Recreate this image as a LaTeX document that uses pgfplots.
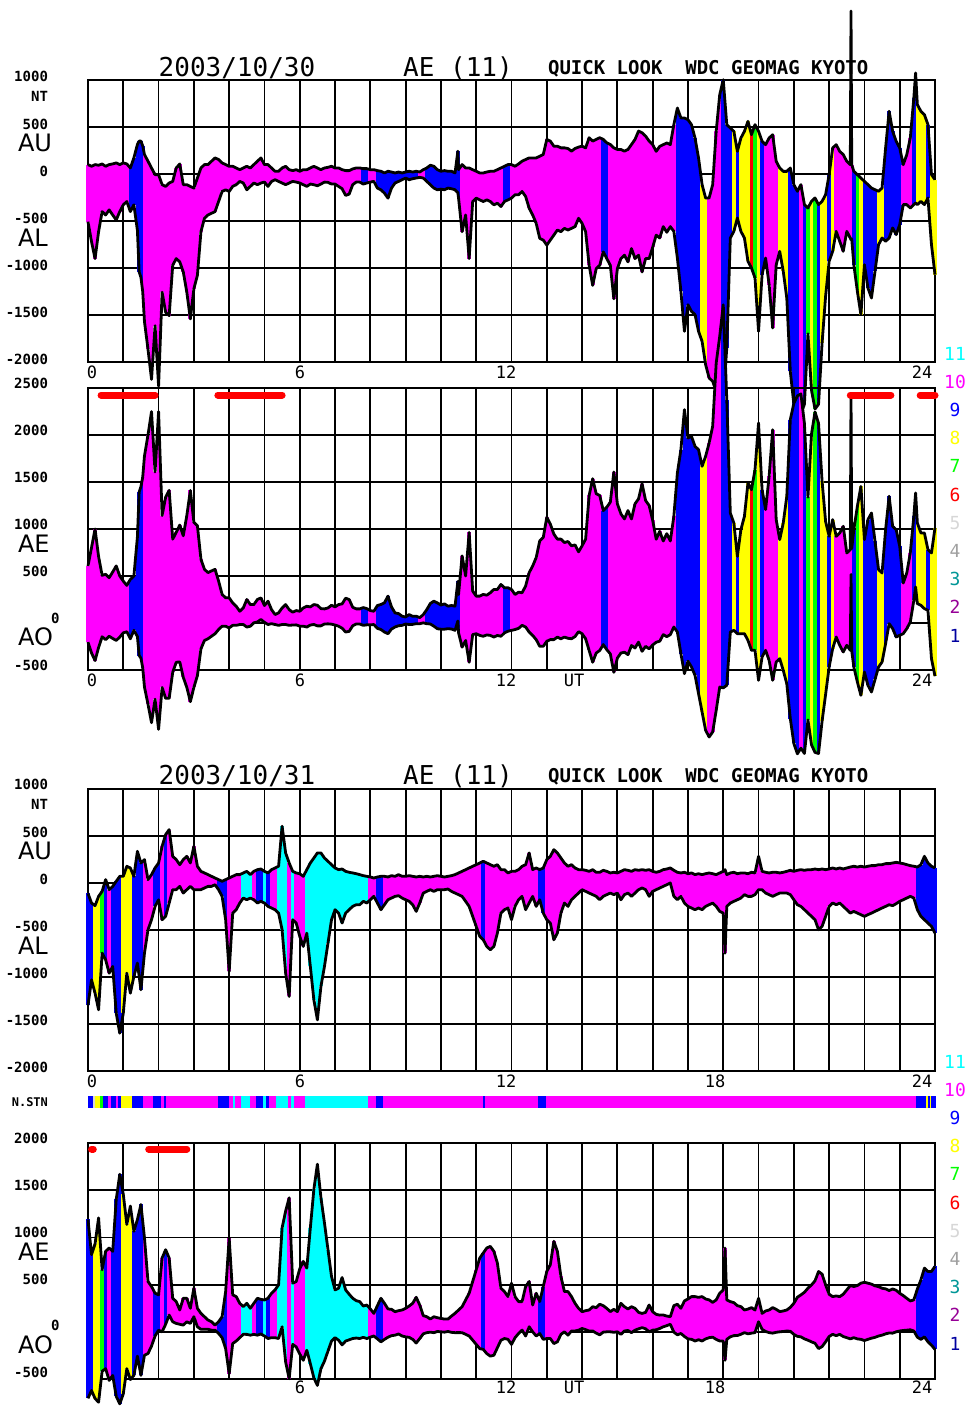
\documentclass[border=0pt]{standalone}
\usepackage{pgfplots}
\pgfplotsset{compat=1.18}
\usepackage{pgfplotstable}
\usepackage{fontspec}
\setmainfont{DejaVu Sans}
\newfontfamily\monof{DejaVu Sans Mono}
\definecolor{mg}{RGB}{255,0,255}
\definecolor{bl}{RGB}{0,0,255}
\definecolor{ye}{RGB}{255,255,0}
\definecolor{gr}{RGB}{0,255,0}
\definecolor{rd}{RGB}{255,0,0}
\definecolor{cy}{RGB}{0,255,255}
\definecolor{lg}{RGB}{215,215,215}
\definecolor{gy}{RGB}{160,160,160}
\definecolor{tl}{RGB}{0,150,150}
\definecolor{pu}{RGB}{150,0,150}
\definecolor{nv}{RGB}{0,0,160}

% 2003/10/30 : t (UT hours), AU, AL (nT)
\pgfplotstableread{
t au al
0.0 100 -507
0.1 82 -721
0.2 100 -900
0.3 93 -614
0.4 107 -400
0.5 82 -436
0.6 100 -382
0.7 107 -436
0.8 118 -489
0.9 100 -400
1.0 118 -328
1.1 107 -293
1.2 64 -400
1.3 171 -328
1.4 314 -600
1.45 350 -1043
1.5 350 -1100
1.55 300 -1250
1.6 207 -1570
1.7 136 -1864
1.8 64 -2185
1.9 -7 -1614
2.0 -7 -2256
2.1 -114 -1257
2.2 -132 -1471
2.3 -96 -1507
2.4 -79 -971
2.5 64 -900
2.6 107 -935
2.7 -114 -1042
2.8 -114 -1257
2.9 -132 -1542
3.0 -150 -1221
3.1 -43 -1078
3.2 64 -614
3.3 100 -471
3.4 100 -436
3.5 136 -418
3.6 171 -400
3.7 154 -293
3.8 118 -186
3.9 100 -168
4.0 82 -186
4.1 82 -132
4.2 64 -114
4.3 46 -79
4.4 64 -96
4.5 82 -168
4.6 64 -132
4.7 100 -96
4.8 136 -114
4.9 171 -96
5.0 100 -86
5.1 100 -132
5.2 64 -79
5.3 29 -61
5.4 29 -79
5.5 64 -96
5.6 82 -114
5.7 46 -96
5.8 36 -79
5.9 46 -86
6.0 29 -96
6.1 46 -114
6.2 46 -132
6.3 64 -107
6.4 82 -114
6.5 64 -125
6.6 46 -107
6.7 64 -86
6.8 71 -89
6.9 82 -107
7.0 64 -107
7.1 64 -132
7.2 46 -157
7.3 36 -228
7.4 36 -214
7.5 54 -114
7.6 64 -86
7.7 64 -86
7.8 57 -107
7.9 57 -96
8.0 46 -86
8.1 46 -79
8.2 36 -150
8.3 29 -168
8.4 11 -204
8.5 29 -257
8.6 21 -150
8.7 11 -96
8.8 21 -79
8.9 11 -61
9.0 21 -43
9.1 29 -61
9.2 21 -50
9.3 29 -43
9.4 21 -36
9.5 46 -43
9.6 64 -79
9.7 93 -114
9.8 82 -150
9.9 46 -168
10.0 29 -161
10.1 36 -168
10.2 29 -150
10.3 29 -157
10.4 11 -168
10.48 243 -200
10.5 46 -257
10.6 100 -614
10.7 64 -436
10.8 64 -900
10.9 46 -293
11.0 29 -257
11.1 11 -275
11.2 11 -293
11.3 21 -275
11.4 29 -293
11.5 29 -328
11.6 46 -311
11.7 64 -346
11.8 82 -293
11.9 100 -275
12.0 100 -257
12.1 82 -221
12.2 107 -221
12.3 136 -186
12.4 154 -239
12.5 171 -364
12.6 171 -436
12.7 171 -525
12.8 189 -685
12.9 207 -703
13.0 368 -757
13.1 350 -703
13.2 296 -650
13.3 296 -596
13.4 278 -614
13.5 278 -578
13.6 271 -596
13.7 243 -578
13.8 271 -560
13.9 286 -471
14.0 296 -525
14.1 278 -614
14.2 386 -971
14.3 350 -1185
14.4 368 -1007
14.5 386 -971
14.6 368 -828
14.7 332 -900
14.8 314 -971
14.9 278 -1328
15.0 261 -1007
15.1 261 -900
15.2 243 -864
15.3 261 -935
15.4 314 -793
15.5 368 -900
15.6 457 -864
15.7 439 -1042
15.8 403 -900
15.9 350 -900
16.0 312 -780
16.1 241 -650
16.2 294 -681
16.3 312 -560
16.4 330 -620
16.5 312 -560
16.6 525 -610
16.7 702 -894
16.8 596 -1248
16.9 596 -1674
17.0 578 -1390
17.1 525 -1461
17.2 383 -1496
17.3 170 -1674
17.4 -113 -1780
17.5 -255 -2028
17.6 -255 -2170
17.7 -113 -2206
17.8 454 -2312
17.9 844 -2206
18.0 1003 -2383
18.1 525 -1851
18.2 489 -681
18.3 454 -610
18.4 241 -468
18.5 383 -610
18.6 454 -681
18.7 560 -929
18.8 418 -1000
18.9 525 -1106
19.0 454 -1674
19.1 348 -1071
19.2 312 -894
19.3 383 -1177
19.4 418 -1638
19.5 135 -965
19.6 64 -823
19.7 28 -1035
19.8 28 -1319
19.9 64 -2100
20.0 -113 -2450
20.1 -184 -2600
20.2 -113 -2550
20.3 -326 -2450
20.4 -362 -1700
20.5 -291 -2300
20.6 -255 -2500
20.7 -326 -2450
20.8 -291 -1800
20.9 -220 -1300
21.0 -7 -929
21.1 277 -823
21.2 312 -610
21.3 241 -716
21.4 206 -823
21.5 135 -610
21.6 99 -681
21.62 1734 -700
21.64 100 -690
21.7 28 -965
21.8 -7 -1248
21.9 -43 -1496
22.0 -78 -965
22.1 -113 -1213
22.2 -149 -1319
22.3 -167 -1035
22.4 -184 -752
22.5 -149 -681
22.6 277 -716
22.7 667 -681
22.8 454 -574
22.9 348 -645
23.0 277 -539
23.1 99 -326
23.2 206 -326
23.3 383 -362
23.4 809 -326
23.45 1075 -308
23.5 738 -326
23.6 667 -291
23.7 631 -326
23.8 525 -255
23.9 -7 -752
24.0 -60 -1071
}\dayA

% 2003/10/31 : t (UT hours), AU, AL (nT)
\pgfplotstableread{
t au al
0.0 -110 -1300
0.1 -213 -1030
0.2 -241 -1172
0.3 -142 -1349
0.4 -89 -746
0.5 36 -817
0.6 -71 -959
0.7 -36 -888
0.8 18 -1385
0.9 71 -1598
1.0 71 -1385
1.1 178 -959
1.2 160 -1172
1.3 71 -994
1.4 337 -852
1.5 213 -1136
1.6 249 -746
1.7 36 -497
1.8 89 -391
1.9 160 -249
2.0 213 -178
2.1 391 -391
2.2 515 -355
2.3 568 -213
2.4 284 -71
2.5 249 -71
2.6 195 -36
2.7 249 -107
2.8 284 -71
2.9 213 -36
3.0 391 -71
3.1 178 -71
3.2 124 -71
3.3 107 -53
3.4 89 -36
3.5 71 -36
3.6 53 -18
3.7 36 -71
3.8 18 -142
3.9 36 -391
4.0 53 -941
4.1 71 -320
4.2 89 -284
4.3 89 -213
4.4 107 -160
4.5 124 -178
4.6 89 -160
4.7 124 -178
4.8 142 -213
4.9 149 -195
5.0 124 -213
5.1 107 -249
5.2 142 -266
5.3 160 -284
5.4 178 -320
5.5 604 -497
5.6 320 -959
5.7 213 -1207
5.8 124 -391
5.9 107 -426
6.0 99 -568
6.1 71 -675
6.2 142 -533
6.3 213 -888
6.4 266 -1243
6.5 320 -1456
6.6 320 -1101
6.7 266 -888
6.8 231 -639
6.9 195 -391
7.0 160 -284
7.1 142 -320
7.2 149 -426
7.3 124 -320
7.4 114 -284
7.5 107 -249
7.6 99 -231
7.7 89 -231
7.8 78 -195
7.9 71 -213
8.0 64 -178
8.1 53 -142
8.2 64 -213
8.3 71 -284
8.4 71 -231
8.5 64 -178
8.6 78 -160
8.7 71 -142
8.8 89 -135
8.9 71 -160
9.0 71 -178
9.1 78 -195
9.2 71 -231
9.3 64 -302
9.4 71 -213
9.5 64 -107
9.6 71 -89
9.7 64 -71
9.8 71 -89
9.9 78 -71
10.0 71 -71
10.1 64 -71
10.2 71 -64
10.3 78 -89
10.4 89 -107
10.5 107 -124
10.6 124 -142
10.7 142 -195
10.8 160 -249
10.9 178 -355
11.0 195 -462
11.1 213 -568
11.2 231 -604
11.3 213 -675
11.4 195 -710
11.5 178 -675
11.6 195 -533
11.7 142 -320
11.8 142 -284
11.9 107 -266
12.0 124 -391
12.1 124 -249
12.2 142 -178
12.3 178 -142
12.4 195 -284
12.5 320 -213
12.6 142 -142
12.7 160 -249
12.8 142 -178
12.9 160 -320
13.0 249 -391
13.1 284 -426
13.2 355 -604
13.3 320 -533
13.4 266 -320
13.5 213 -213
13.6 178 -249
13.7 195 -178
13.8 160 -142
13.9 142 -107
14.0 142 -71
14.1 135 -89
14.2 124 -107
14.3 142 -124
14.4 114 -142
14.5 114 -178
14.6 135 -142
14.7 124 -124
14.8 107 -107
14.9 114 -124
15.0 107 -107
15.1 124 -178
15.2 142 -124
15.3 135 -107
15.4 124 -142
15.5 142 -107
15.6 135 -71
15.7 142 -53
15.8 135 -71
15.9 142 -142
16.0 124 -89
16.1 114 -71
16.2 124 -53
16.3 142 -36
16.4 149 -18
16.5 160 0
16.6 135 -142
16.7 114 -178
16.8 107 -142
16.9 114 -213
17.0 99 -249
17.1 107 -266
17.2 89 -284
17.3 99 -266
17.4 89 -284
17.5 99 -249
17.6 107 -231
17.7 99 -213
17.8 89 -249
17.9 107 -302
18.0 124 -320
18.05 142 -746
18.1 89 -249
18.2 107 -213
18.3 114 -195
18.4 99 -178
18.5 107 -160
18.6 107 -124
18.7 99 -142
18.8 114 -142
18.9 107 -124
19.0 284 -71
19.1 124 -71
19.2 114 -107
19.3 107 -124
19.4 114 -142
19.5 114 -124
19.6 107 -107
19.7 114 -107
19.8 124 -107
19.9 135 -124
20.0 124 -178
20.1 135 -231
20.2 142 -249
20.3 135 -284
20.4 142 -320
20.5 142 -355
20.6 149 -391
20.7 142 -497
20.8 149 -462
20.9 142 -355
21.0 149 -249
21.1 160 -213
21.2 149 -231
21.3 160 -213
21.4 149 -249
21.5 160 -284
21.6 170 -320
21.7 178 -302
21.8 170 -320
21.9 178 -337
22.0 170 -355
22.1 178 -337
22.2 185 -320
22.3 185 -302
22.4 195 -284
22.5 195 -266
22.6 206 -249
22.7 206 -231
22.8 213 -241
22.9 220 -220
23.0 213 -195
23.1 206 -178
23.2 195 -160
23.3 185 -142
23.4 178 -160
23.5 170 -284
23.6 195 -355
23.7 284 -391
23.8 213 -426
23.9 178 -462
24.0 160 -533
}\dayB

% derived columns: AE = AU-AL, AO = (AU+AL)/2, and mid/half-range of each band
\newcommand\derive[1]{%
  \pgfplotstablecreatecol[create col/expr={\thisrow{au}-\thisrow{al}}]{ae}#1%
  \pgfplotstablecreatecol[create col/expr={(\thisrow{au}+\thisrow{al})/2}]{ao}#1%
  \pgfplotstablecreatecol[create col/expr={(\thisrow{au}+\thisrow{al})/2}]{ulm}#1%
  \pgfplotstablecreatecol[create col/expr={(\thisrow{au}-\thisrow{al})/2}]{ule}#1%
  \pgfplotstablecreatecol[create col/expr={(\thisrow{ae}+\thisrow{ao})/2}]{eom}#1%
  \pgfplotstablecreatecol[create col/expr={(\thisrow{ae}-\thisrow{ao})/2}]{eoe}#1}
\derive\dayA
\derive\dayB

% colour of the fill by number of stations: start/end/colour
\def\segA{0/1.17/mg,1.17/1.58/bl,1.58/7.76/mg,7.76/7.94/bl,7.94/8.18/mg,8.18/8.55/bl,8.55/8.6/mg,8.6/9.4/bl,9.4/9.6/mg,9.6/10.54/bl,10.54/11.78/mg,11.78/11.97/bl,11.97/14.55/mg,14.55/14.77/bl,14.77/15.24/mg,15.24/15.29/bl,15.29/16.63/mg,16.63/17.34/bl,17.34/17.4/mg,17.4/17.57/ye,17.57/17.98/mg,17.98/18.28/bl,18.28/18.39/ye,18.39/18.47/bl,18.47/18.75/ye,18.75/18.85/rd,18.85/18.94/gr,18.94/19.08/ye,19.08/19.18/bl,19.18/19.56/mg,19.56/19.89/ye,19.89/20.17/bl,20.17/20.28/mg,20.28/20.36/bl,20.36/20.45/gr,20.45/20.54/ye,20.54/20.69/gr,20.69/20.78/bl,20.78/20.97/ye,20.97/21.07/bl,21.07/21.16/ye,21.16/21.61/mg,21.63/21.68/mg,21.68/21.75/bl,21.75/21.87/gr,21.87/21.96/ye,21.96/22.11/bl,22.11/22.2/ye,22.2/22.39/bl,22.39/22.53/ye,22.53/23.05/bl,23.05/23.1/ye,23.1/23.33/mg,23.33/23.48/bl,23.48/23.71/ye,23.71/23.85/bl,23.85/24/ye}
\def\segB{0/0.15/bl,0.15/0.2/lg,0.2/0.34/ye,0.34/0.43/gr,0.43/0.58/bl,0.58/0.65/mg,0.65/0.81/bl,0.81/0.86/mg,0.86/0.95/bl,0.95/1.26/ye,1.26/1.57/bl,1.57/1.85/mg,1.85/2.07/bl,2.07/2.16/mg,2.16/2.22/bl,2.22/3.69/mg,3.69/3.99/bl,3.99/4.12/mg,4.12/4.16/cy,4.16/4.35/mg,4.35/4.61/cy,4.61/4.78/mg,4.78/4.97/bl,4.97/5.06/cy,5.06/5.13/bl,5.13/5.34/mg,5.34/5.68/cy,5.68/5.77/mg,5.77/5.85/cy,5.85/6.15/mg,6.15/7.94/cy,7.94/8.18/mg,8.18/8.37/bl,8.37/11.2/mg,11.2/11.25/bl,11.25/12.76/mg,12.76/12.97/bl,12.97/23.46/mg,23.46/23.74/bl,23.74/23.8/ye,23.8/23.86/bl,23.86/23.9/ye,23.9/24/bl}

\pgfplotsset{
  panel/.style={scale only axis, anchor=north west, width=423.5pt,
    xmin=0, xmax=24, xtick={0,1,...,24}, xticklabels={}, yticklabels={},
    grid=major, major grid style={black, line width=0.9pt},
    axis line style={black, line width=0.9pt}, major tick length=0pt, clip=false},
  env/.style={black, line width=1.4pt, line join=round},
  segbar/.style={draw=none, mark=none, forget plot,
    error bars/.cd, y dir=both, y explicit, error mark=none,
    error bar style={draw=#1, line width=1.85pt}},
}
% one vertical bar (between the two curves) per sample, coloured by segment
% #1 segment list, #2 table, #3 mid column, #4 half-range column
\newcommand\segfill[4]{%
  \gdef\allsegs{}%
  \foreach \a/\b/\c in #1 {%
    \xdef\allsegs{\unexpanded\expandafter{\allsegs}\noexpand\addplot[no markers, restrict x to domain=\a:\b, segbar=\c] table[x=t, y=#3, y error=#4]{\noexpand#2};}}%
  \allsegs}
\newcommand\segstrip[1]{%
  \gdef\allsegs{}%
  \foreach \a/\b/\c in #1 {%
    \xdef\allsegs{\unexpanded\expandafter{\allsegs}\noexpand\addplot[fill=\c, draw=\c, line width=0.2pt] coordinates {(\a,0) (\a,1) (\b,1) (\b,0)} --cycle;}}%
  \allsegs}

\tikzset{tl/.style={font=\monof\bfseries\fontsize{7}{7}\selectfont, anchor=east},
  big/.style={font=\fontsize{12}{12}\selectfont, anchor=west},
  xl/.style={font=\monof\fontsize{8.5}{8.5}\selectfont},
  ttl/.style={font=\monof\fontsize{13}{13}\selectfont},
  qk/.style={font=\monof\bfseries\fontsize{9.5}{9.5}\selectfont, anchor=west},
  lgd/.style={font=\monof\fontsize{9}{9}\selectfont}}

\begin{document}
\begin{tikzpicture}

% ---------- 2003/10/30 AU/AL
\begin{axis}[panel, at={(44pt,-40pt)}, height=141pt, ymin=-2000, ymax=1000, ytick={-2000,-1500,...,1000}]
\segfill{\segA}{\dayA}{ulm}{ule}
\addplot[env] table[x=t,y=au]{\dayA};
\addplot[env] table[x=t,y=al]{\dayA};
\end{axis}

% ---------- 2003/10/30 AE/AO
\begin{axis}[panel, at={(44pt,-194pt)}, height=141pt, ymin=-500, ymax=2500, ytick={-500,0,...,2500}]
\segfill{\segA}{\dayA}{eom}{eoe}
\addplot[env] table[x=t,y=ae]{\dayA};
\addplot[env] table[x=t,y=ao]{\dayA};
\addplot[rd, line width=3.5pt, line cap=round] coordinates {(0.37,2425) (1.9,2425)};
\addplot[rd, line width=3.5pt, line cap=round] coordinates {(3.68,2425) (5.5,2425)};
\addplot[rd, line width=3.5pt, line cap=round] coordinates {(21.6,2425) (22.75,2425)};
\addplot[rd, line width=3.5pt, line cap=round] coordinates {(23.58,2425) (24,2425)};
\end{axis}

% ---------- 2003/10/31 AU/AL
\begin{axis}[panel, at={(44pt,-394.5pt)}, height=141pt, ymin=-2000, ymax=1000, ytick={-2000,-1500,...,1000}]
\segfill{\segB}{\dayB}{ulm}{ule}
\addplot[env] table[x=t,y=au]{\dayB};
\addplot[env] table[x=t,y=al]{\dayB};
\end{axis}

% ---------- N.STN strip
\begin{axis}[scale only axis, anchor=north west, at={(44pt,-548pt)}, width=423.5pt, height=5.5pt,
  xmin=0, xmax=24, ymin=0, ymax=1, hide axis, clip=false]
\segstrip{\segB}
\end{axis}

% ---------- 2003/10/31 AE/AO
\begin{axis}[panel, at={(44pt,-571.5pt)}, height=118pt, ymin=-500, ymax=2000, ytick={-500,0,...,2000}]
\segfill{\segB}{\dayB}{eom}{eoe}
\addplot[env] table[x=t,y=ae]{\dayB};
\addplot[env] table[x=t,y=ao]{\dayB};
\addplot[rd, line width=3.5pt, line cap=round] coordinates {(0.1,1936) (0.15,1936)};
\addplot[rd, line width=3.5pt, line cap=round] coordinates {(1.72,1936) (2.8,1936)};
\end{axis}

% ---------- texts (pixel units)
\begin{scope}[x=0.5pt, y=-0.5pt]
\node[ttl] at (237,68) {2003/10/30};
\node[ttl] at (458,68) {AE (11)};
\node[qk] at (541,69) {QUICK LOOK\ \ WDC GEOMAG KYOTO};
\node[ttl] at (237,776) {2003/10/31};
\node[ttl] at (458,776) {AE (11)};
\node[qk] at (541,777) {QUICK LOOK\ \ WDC GEOMAG KYOTO};
\node[tl] at (55,76) {1000};
\node[tl] at (55,96) {NT};
\node[tl] at (55,124) {500};
\node[tl] at (55,171) {0};
\node[tl] at (55,218) {-500};
\node[tl] at (55,265) {-1000};
\node[tl] at (55,312) {-1500};
\node[tl] at (55,359) {-2000};
\node[big] at (11,143) {AU};
\node[big] at (11,238) {AL};
\node[xl] at (92,372) {0};
\node[xl] at (300,372) {6};
\node[xl] at (506,372) {12};
\node[xl] at (922,372) {24};
\node[tl] at (55,383) {2500};
\node[tl] at (55,430) {2000};
\node[tl] at (55,477) {1500};
\node[tl] at (55,524) {1000};
\node[tl] at (55,571) {500};
\node[tl, anchor=west] at (44,618) {0};
\node[tl] at (55,665) {-500};
\node[big] at (11,544) {AE};
\node[big] at (11,637) {AO};
\node[xl] at (92,680) {0};
\node[xl] at (300,680) {6};
\node[xl] at (506,680) {12};
\node[xl] at (574,680) {UT};
\node[xl] at (922,680) {24};
\node[tl] at (55,784) {1000};
\node[tl] at (55,804) {NT};
\node[tl] at (55,832) {500};
\node[tl] at (55,879) {0};
\node[tl] at (55,926) {-500};
\node[tl] at (55,973) {-1000};
\node[tl] at (55,1020) {-1500};
\node[tl] at (55,1067) {-2000};
\node[big] at (11,851) {AU};
\node[big] at (11,946) {AL};
\node[xl] at (92,1081) {0};
\node[xl] at (300,1081) {6};
\node[xl] at (506,1081) {12};
\node[xl] at (715,1081) {18};
\node[xl] at (922,1081) {24};
\node[tl, font=\monof\bfseries\fontsize{6}{6}\selectfont] at (55,1102) {N.STN};
\node[tl] at (55,1138) {2000};
\node[tl] at (55,1185) {1500};
\node[tl] at (55,1232) {1000};
\node[tl] at (55,1279) {500};
\node[tl, anchor=west] at (44,1325) {0};
\node[tl] at (55,1372) {-500};
\node[big] at (11,1252) {AE};
\node[big] at (11,1345) {AO};
\node[xl] at (300,1387) {6};
\node[xl] at (506,1387) {12};
\node[xl] at (574,1387) {UT};
\node[xl] at (715,1387) {18};
\node[xl] at (922,1387) {24};
\foreach \n/\c/\y in {11/cy/354,10/mg/382,9/bl/410,8/ye/438,7/gr/466,6/rd/495,5/lg/523,4/gy/551,3/tl/579,2/pu/607,1/nv/636} {
  \node[lgd, text=\c] at (955,\y) {\n};
  \node[lgd, text=\c] at (955,\y+708) {\n};
}
\end{scope}
\pgfresetboundingbox
\path[use as bounding box] (0pt,0pt) rectangle (485.5pt,-703pt);
\end{tikzpicture}
\end{document}
